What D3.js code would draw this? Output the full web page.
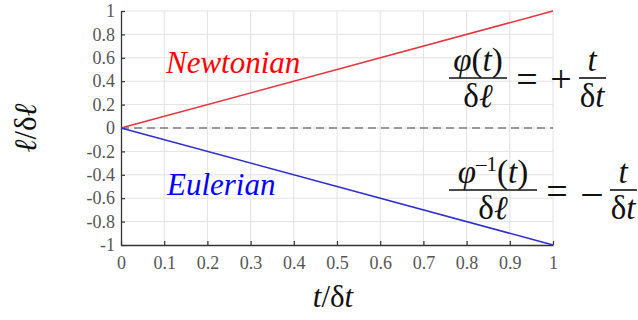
<!DOCTYPE html>
<html>
<head>
<meta charset="utf-8">
<script src="https://cdn.jsdelivr.net/npm/d3@7"></script>
<style>
  html, body { margin: 0; padding: 0; background: #fff; }
  svg { display: block; }
  svg text { font-family: "Liberation Serif", serif; }
</style>
</head>
<body>
<svg id="chart" width="638" height="320"></svg>
<script>
// Normalised time samples and the two linear maps
const tValues = [0, 1];
const newtonian = [0, 1];
const eulerian = [0, -1];
const xTicks = [0, 0.1, 0.2, 0.3, 0.4, 0.5, 0.6, 0.7, 0.8, 0.9, 1];
const yTicks = [-1, -0.8, -0.6, -0.4, -0.2, 0, 0.2, 0.4, 0.6, 0.8, 1];
const seriesNames = ["Newtonian", "Eulerian"];

const PHI = "\u03C6", DELTA = "\u03B4", ELL = "\u2113", DASH = "\u2013";

const svg = d3.select("#chart");
const x = d3.scaleLinear().domain([0, 1]).range([121, 553]);
const y = d3.scaleLinear().domain([-1, 1]).range([245, 11]);

const fmt = d => (d < 0 ? "-" : "") + String(Math.abs(d));

// grid
const grid = svg.append("g").attr("stroke", "#e2e2e2").attr("stroke-width", 1);
grid.selectAll("line.vx").data(xTicks.slice(1)).join("line")
  .attr("x1", d => x(d)).attr("x2", d => x(d)).attr("y1", y(-1)).attr("y2", y(1));
grid.selectAll("line.hy").data(yTicks.slice(1)).join("line")
  .attr("x1", x(0)).attr("x2", x(1)).attr("y1", d => y(d)).attr("y2", d => y(d));

// axes with inward ticks
const xAxis = d3.axisBottom(x).tickValues(xTicks).tickSizeInner(-4).tickSizeOuter(0).tickPadding(11).tickFormat(fmt);
const yAxis = d3.axisLeft(y).tickValues(yTicks).tickSizeInner(-4).tickSizeOuter(0).tickPadding(6).tickFormat(fmt);

const gx = svg.append("g").attr("transform", `translate(0,${y(-1)})`).call(xAxis);
const gy = svg.append("g").attr("transform", `translate(${x(0)},0)`).call(yAxis);
[gx, gy].forEach(g => {
  g.attr("font-family", null).attr("font-size", null);
  g.select(".domain").attr("stroke", "#333").attr("stroke-width", 1.3);
  g.selectAll(".tick line").attr("stroke", "#333").attr("stroke-width", 1.2);
  g.selectAll(".tick text").attr("fill", "#555").style("font-size", "18px");
});

// zero reference line
svg.append("line")
  .attr("x1", x(0)).attr("x2", x(1)).attr("y1", y(0)).attr("y2", y(0))
  .attr("stroke", "#444").attr("stroke-width", 1.2).attr("stroke-dasharray", "8,5");

// series lines
const line = d3.line().x(d => x(d[0])).y(d => y(d[1]));
svg.append("path").datum(tValues.map((t, i) => [t, newtonian[i]]))
  .attr("d", line).attr("fill", "none").attr("stroke", "#e5343c").attr("stroke-width", 1.5);
svg.append("path").datum(tValues.map((t, i) => [t, eulerian[i]]))
  .attr("d", line).attr("fill", "none").attr("stroke", "#2c2ccf").attr("stroke-width", 1.5);

// series names
svg.append("text").attr("x", 166).attr("y", 73).style("font-style", "italic")
  .style("font-size", "31px").attr("fill", "#ff0000").text(seriesNames[0]);
svg.append("text").attr("x", 167).attr("y", 195).style("font-style", "italic")
  .style("font-size", "31px").attr("fill", "#0000ff").text(seriesNames[1]);

// build a text element from parts: {t, i (italic), sup, down}
function parts(sel, list) {
  list.forEach(p => {
    const s = sel.append("tspan").text(p.t);
    if (p.i) s.style("font-style", "italic");
    if (p.sup) s.style("font-size", "21px").attr("dy", -12);
    if (p.down) s.attr("dy", 12);
  });
}

// axis titles
const xt = svg.append("text").attr("x", 333).attr("y", 307).attr("text-anchor", "middle")
  .style("font-size", "31px").attr("fill", "#111");
parts(xt, [{t: "t", i: true}, {t: "/" + DELTA}, {t: "t", i: true}]);

const yt = svg.append("text").attr("transform", "translate(36,128) rotate(-90)").attr("text-anchor", "middle")
  .style("font-size", "31px").attr("fill", "#111");
parts(yt, [{t: ELL, i: true}, {t: "/" + DELTA}, {t: ELL, i: true}]);

// equations
const eq = svg.append("g").attr("fill", "#111");
function frac(cx, x0, x1, lineY, num, den) {
  eq.append("line").attr("x1", x0).attr("x2", x1).attr("y1", lineY).attr("y2", lineY)
    .attr("stroke", "#111").attr("stroke-width", 1.6);
  parts(eq.append("text").attr("x", cx).attr("y", lineY - 7).attr("text-anchor", "middle").style("font-size", "33px"), num);
  parts(eq.append("text").attr("x", cx).attr("y", lineY + 29).attr("text-anchor", "middle").style("font-size", "33px"), den);
}
function sym(cx, cy, s) {
  eq.append("text").attr("x", cx).attr("y", cy).attr("text-anchor", "middle").style("font-size", "38px").text(s);
}
frac(478, 449, 507, 78, [{t: PHI, i: true}, {t: "("}, {t: "t", i: true}, {t: ")"}], [{t: DELTA}, {t: ELL, i: true}]);
sym(527, 92, "=");
sym(561, 92, "+");
frac(592, 579, 606, 78, [{t: "t", i: true}], [{t: DELTA}, {t: "t", i: true}]);

frac(493, 449, 537, 190, [{t: PHI, i: true}, {t: DASH + "1", sup: true}, {t: "(", down: true}, {t: "t", i: true}, {t: ")"}], [{t: DELTA}, {t: ELL, i: true}]);
sym(557, 204, "=");
sym(592, 204, DASH);
frac(623, 610, 637, 190, [{t: "t", i: true}], [{t: DELTA}, {t: "t", i: true}]);
</script>
</body>
</html>
